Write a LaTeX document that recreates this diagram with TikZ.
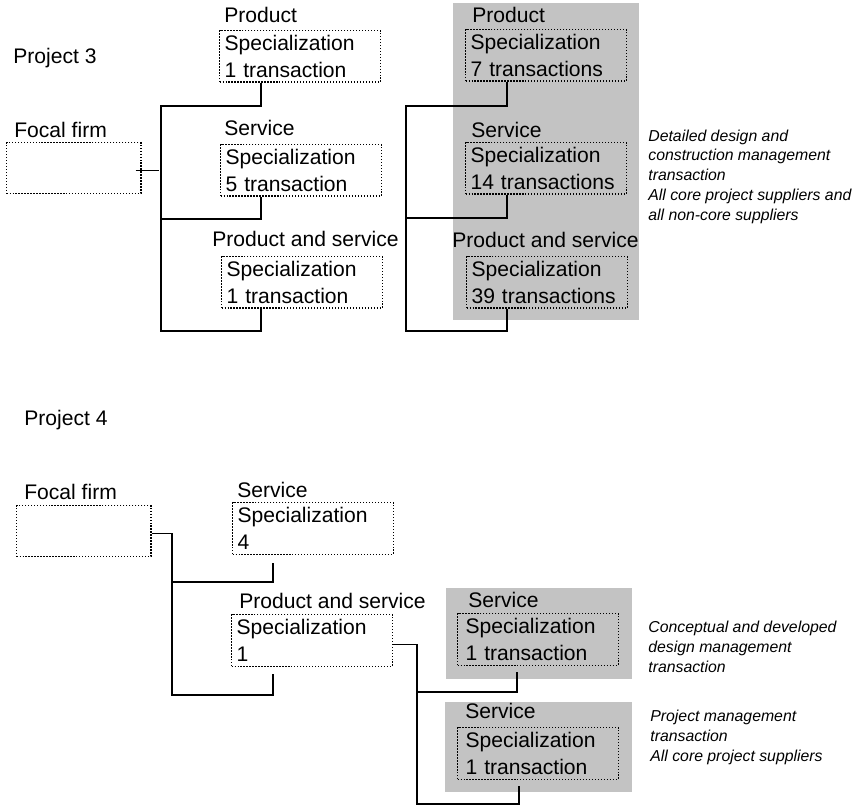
\documentclass[tikz,border=0pt]{standalone}
\usepackage{fontspec}
\setmainfont{Liberation Sans}
\usetikzlibrary{calc}
\definecolor{panelgray}{HTML}{C3C3C3}
\newcommand{\specfont}{\fontsize{12}{15.3}\selectfont}
\newcommand{\notesfont}{\fontsize{9}{11.2}\selectfont\itshape}

\tikzset{
  spec/.style={draw,line width=0.6pt,dash pattern=on 0.7pt off 1pt,anchor=north west,align=left,
    text width=3.02cm,inner xsep=0.1cm,inner ysep=0pt,minimum height=1.03cm,font=\specfont},
  specwide/.style={spec,inner xsep=0.16cm,text width=2.9cm},
  firm/.style={draw,line width=0.6pt,dash pattern=on 0.7pt off 1pt,anchor=north west,
    minimum width=2.69cm,minimum height=1.02cm,inner sep=0pt},
  tag/.style={anchor=base west,inner sep=0pt,font=\specfont},
  % placed by the baseline of the last line
  note/.style={anchor=base west,inner sep=0pt,align=left,font=\notesfont},
  link/.style={line width=0.75pt}
}

\begin{document}
\begin{tikzpicture}[x=0.02cm,y=-0.02cm]
\useasboundingbox (0,0) rectangle (856,806);

% project 3
\fill[panelgray] (453,3) rectangle (639,320);
\node[tag] (p3title) at (13,63) {Project 3};
\node[tag] (p3firmtag) at (14,137) {Focal firm};
\node[firm] (p3firm) at (6,142) {};
\foreach \n/\x/\y/\t in {p3prod/219/30/1 transaction, p3serv/220/144/5 transaction, p3both/221/256/1 transaction,
    p3prodB/465/29/7 transactions, p3servB/465/142/14 transactions, p3bothB/466/256/39 transactions}
  \node[spec] (\n) at (\x,\y) {Specialization\\\t};
\foreach \n/\x/\y/\t in {p3prodtag/224/22/Product, p3servtag/224/135/Service, p3bothtag/212/246/Product and service,
    p3prodtagB/472/22/Product, p3servtagB/471/137/Service, p3bothtagB/452/247/Product and service}
  \node[tag] (\n) at (\x,\y) {\t};

\coordinate (p3bus) at (161,106);
\coordinate (p3mid) at (161,219);
\coordinate (p3end) at (161,331);
\draw[link] (p3firm.east) ++(-6,2.5) -- ++(23,0);
\draw[link] ($(p3prod.south west)+(42,0)$) |- (p3bus) -- (p3end) -| ($(p3both.south west)+(40,0)$);
\draw[link] (p3mid) -| ($(p3serv.south west)+(41,0)$);

\coordinate (p3busB) at (406,106);
\coordinate (p3midB) at (406,218);
\coordinate (p3endB) at (406,331);
\draw[link] ($(p3prodB.south west)+(42,0)$) |- (p3busB) -- (p3endB) -| ($(p3bothB.south west)+(41,0)$);
\draw[link] (p3midB) -| ($(p3servB.south west)+(42,0)$);

\node[note] (p3note) at (648,220) {Detailed design and\\construction management\\transaction\\All core project suppliers and\\all non-core suppliers};

% project 4
\fill[panelgray] (446,588) rectangle (632,679);
\fill[panelgray] (445,702) rectangle (632,792);
\node[tag] (p4title) at (24,425) {Project 4};
\node[tag] (p4firmtag) at (24,499) {Focal firm};
\node[firm] (p4firm) at (16,505) {};
\node[spec] (p4serv) at (232,502) {Specialization\\4};
\node[spec] (p4both) at (231,614) {Specialization\\1};
\node[specwide] (p4design) at (457,613) {Specialization\\1 transaction};
\node[specwide] (p4manage) at (457,727) {Specialization\\1 transaction};
\foreach \n/\x/\y/\t in {p4servtag/237/497/Service, p4bothtag/239/608/Product and service,
    p4designtag/468/607/Service, p4managetag/465/718/Service}
  \node[tag] (\n) at (\x,\y) {\t};

\coordinate (p4mid) at (172,582);
\coordinate (p4end) at (172,695);
\draw[link] (p4firm.east) ++(0,2.5) -| (p4end) -| ($(p4both.south west)+(42,7)$);
\draw[link] (p4mid) -| ($(p4serv.south west)+(41,8)$);

\coordinate (p4midB) at (417,692);
\coordinate (p4endB) at (417,804);
\draw[link] ($(p4both.east)+(0,4)$) -| (p4endB) -| ($(p4manage.south west)+(62,6)$);
\draw[link] (p4midB) -| ($(p4design.south west)+(60,6)$);

\node[note] (p4designnote) at (648,672) {Conceptual and developed\\design management\\transaction};
\node[note] (p4managenote) at (650,761) {Project management\\transaction\\All core project suppliers};
\end{tikzpicture}
\end{document}
